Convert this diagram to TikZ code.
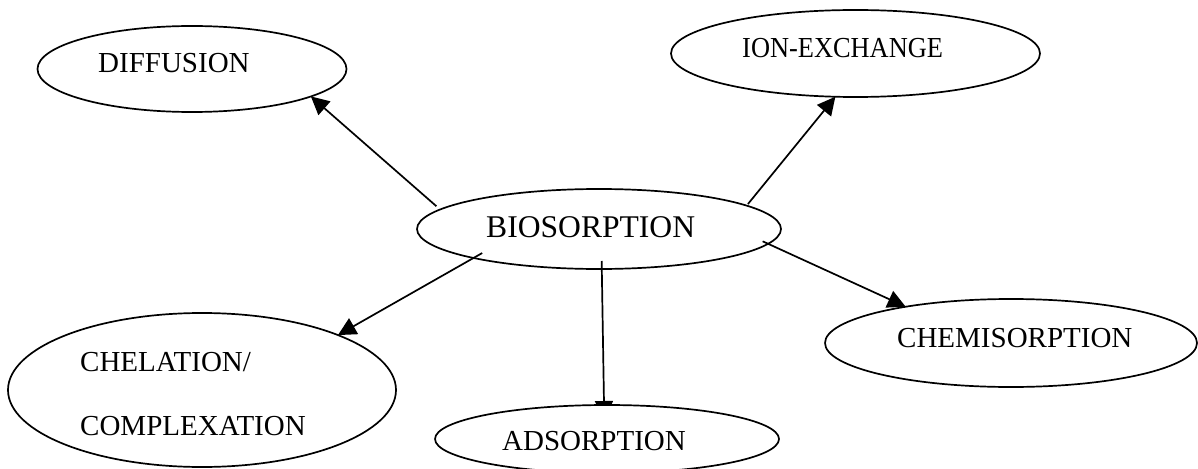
\documentclass[tikz,border=0pt]{standalone}
\usepackage{fontspec}
\setmainfont{Liberation Serif}
\usetikzlibrary{shapes.geometric,arrows.meta}
\pgfdeclarelayer{bg}
\pgfsetlayers{bg,main}
\begin{document}
\begin{tikzpicture}[x=1pt,y=-1pt,
  oval/.style={ellipse, draw, line width=1.7pt, inner sep=0pt, outer sep=0pt},
  lbl/.style={inner sep=0pt, anchor=base west, font=\fontsize{29pt}{34pt}\selectfont},
  conn/.style={line width=1.7pt, -{Triangle[length=18pt,width=18pt]}}]
\useasboundingbox (0,0) rectangle (1198,468);
% ellipses
\node[oval, minimum width=309pt, minimum height=86pt] (diff) at (192,69) {};
\node[oval, minimum width=369pt, minimum height=87pt] (ion) at (855.5,53.5) {};
\node[oval, minimum width=364pt, minimum height=80pt] (bio) at (599,229) {};
\node[oval, minimum width=372pt, minimum height=88pt] (chem) at (1011,343) {};
\node[oval, minimum width=388pt, minimum height=154pt] (chel) at (202,390) {};
\node[oval, fill=white, minimum width=344pt, minimum height=68pt] (ads) at (607,439) {};
% labels
\node[lbl] (diffT) at (98,73) {DIFFUSION};
\node[lbl] (ionT) at (742,58) {\scalebox{0.91}[1]{ION-EXCHANGE}};
\node[lbl, font=\fontsize{31.6pt}{36pt}\selectfont] (bioT) at (486,237) {BIOSORPTION};
\node[lbl] (chemT) at (897,347) {CHEMISORPTION};
\node[lbl] (chelT) at (80,371) {CHELATION/};
\node[lbl] (compT) at (80,435) {COMPLEXATION};
\node[lbl] (adsT) at (502,450) {ADSORPTION};
% connectors
\draw[conn, shorten <=5pt] (bio.173) -- (diff.347);
\draw[conn, shorten <=2pt] (bio.9) -- (ion.245);
\draw[conn, shorten <=-6pt] (bio.355) -- (chem.161);
\draw[conn, shorten <=-10pt] (bio.193) -- (chel.22);
\begin{pgfonlayer}{bg}
\draw[conn, shorten <=-8pt, shorten >=-14pt] (bio.274) -- (ads.95);
\end{pgfonlayer}
\end{tikzpicture}
\end{document}
